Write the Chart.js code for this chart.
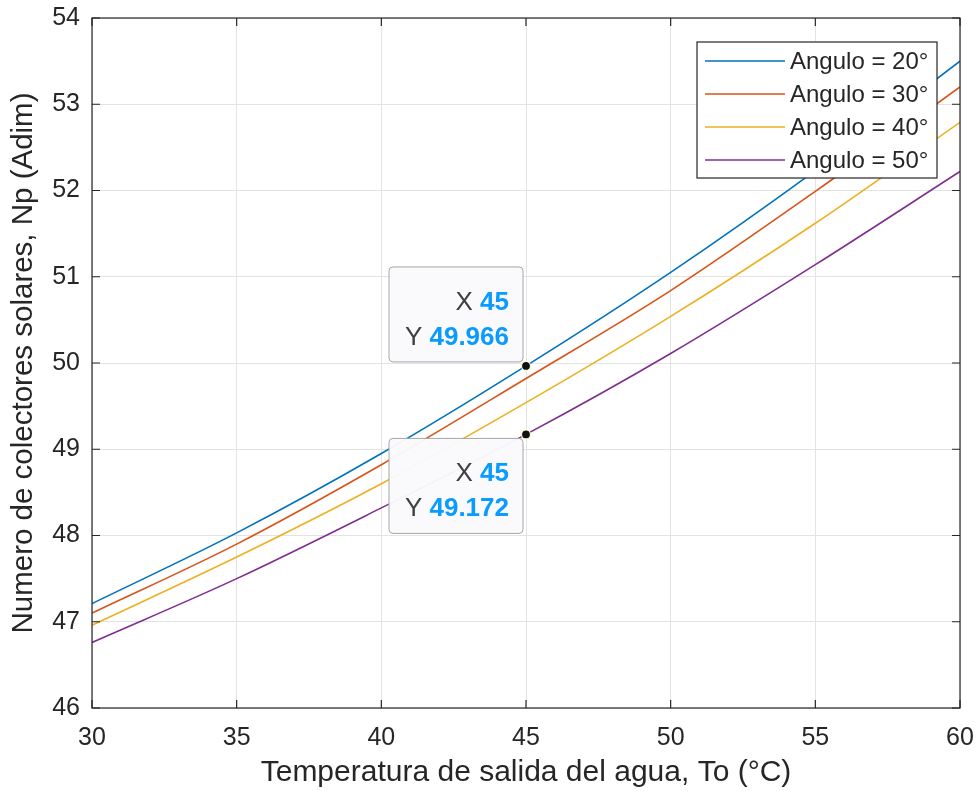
<!DOCTYPE html>
<html>
<head>
<meta charset="utf-8">
<script src="https://cdn.jsdelivr.net/npm/chart.js@4.4.1/dist/chart.umd.min.js"></script>
<style>
  html, body { margin: 0; padding: 0; background: #fff; }
  #wrap { width: 979px; height: 791px; }
</style>
</head>
<body>
<div id="wrap"><canvas id="npChart"></canvas></div>
<script>
// Datos
const temps = [30, 35, 40, 45, 50, 55, 60];
const ang20 = [47.21, 48.03, 48.95, 49.966, 51.05, 52.23, 53.50];
const ang30 = [47.10, 47.90, 48.82, 49.82, 50.84, 51.99, 53.20];
const ang40 = [46.96, 47.75, 48.60, 49.54, 50.54, 51.62, 52.79];
const ang50 = [46.76, 47.50, 48.32, 49.172, 50.11, 51.14, 52.22];
const seriesNames = ['Angulo = 20°', 'Angulo = 30°', 'Angulo = 40°', 'Angulo = 50°'];
const xTicks = [30, 35, 40, 45, 50, 55, 60];
const yTicks = [46, 47, 48, 49, 50, 51, 52, 53, 54];

// datatips
const tipX = [45, 45];
const tipY = [49.966, 49.172];
const tipSide = ['above', 'below'];

const colors = ['#0072BD', '#D95319', '#EDB120', '#7E2F8E'];
const axisColor = '#262626';
const gridColor = '#e3e3e3';
const fontFamily = "'Liberation Sans', Arial, Helvetica, sans-serif";

function toXY(ys) {
    return temps.map((t, i) => ({ x: t, y: ys[i] }));
}

// ticks hacia dentro y caja completa, estilo MATLAB
const boxPlugin = {
    id: 'boxPlugin',
    afterDatasetsDraw(chart) {
        const { ctx, chartArea: a, scales } = chart;
        ctx.save();
        ctx.strokeStyle = axisColor;
        ctx.lineWidth = 1.2;
        ctx.strokeRect(a.left, a.top, a.right - a.left, a.bottom - a.top);
        const tl = 8;
        ctx.beginPath();
        xTicks.forEach(v => {
            const px = scales.x.getPixelForValue(v);
            ctx.moveTo(px, a.bottom); ctx.lineTo(px, a.bottom - tl);
            ctx.moveTo(px, a.top); ctx.lineTo(px, a.top + tl);
        });
        yTicks.forEach(v => {
            const py = scales.y.getPixelForValue(v);
            ctx.moveTo(a.left, py); ctx.lineTo(a.left + tl, py);
            ctx.moveTo(a.right, py); ctx.lineTo(a.right - tl, py);
        });
        ctx.stroke();
        ctx.restore();
    }
};

const legendPlugin = {
    id: 'boxLegend',
    afterDraw(chart) {
        const { ctx, chartArea: a } = chart;
        const w = 240, h = 136;
        const x0 = a.right - 23 - w, y0 = a.top + 24;
        ctx.save();
        ctx.fillStyle = '#fff';
        ctx.fillRect(x0, y0, w, h);
        ctx.strokeStyle = axisColor;
        ctx.lineWidth = 1.2;
        ctx.strokeRect(x0, y0, w, h);
        ctx.font = '24px ' + fontFamily;
        ctx.textBaseline = 'middle';
        chart.data.datasets.forEach((ds, i) => {
            const cy = y0 + 19 + i * 33;
            ctx.strokeStyle = ds.borderColor;
            ctx.lineWidth = 1.6;
            ctx.beginPath();
            ctx.moveTo(x0 + 8, cy); ctx.lineTo(x0 + 88, cy);
            ctx.stroke();
            ctx.fillStyle = axisColor;
            ctx.fillText(ds.label, x0 + 93, cy + 1);
        });
        ctx.restore();
    }
};

const tipPlugin = {
    id: 'dataTips',
    afterDraw(chart) {
        const { ctx, scales } = chart;
        ctx.save();
        tipX.forEach((xv, i) => {
            const px = scales.x.getPixelForValue(xv);
            const py = scales.y.getPixelForValue(tipY[i]);
            const w = 134, h = 95;
            const bx = px - 3 - w;
            const by = tipSide[i] === 'above' ? py - 4 - h : py + 4;
            ctx.beginPath();
            ctx.roundRect(bx, by, w, h, 4);
            ctx.fillStyle = 'rgba(250,250,253,0.96)';
            ctx.fill();
            ctx.strokeStyle = '#a6a6a6';
            ctx.lineWidth = 1;
            ctx.stroke();

            const rx = bx + w - 14;
            const rows = [['X', String(xv)], ['Y', tipY[i].toFixed(3)]];
            ctx.textBaseline = 'alphabetic';
            rows.forEach((r, k) => {
                const base = by + 43 + k * 35;
                ctx.font = 'bold 26px ' + fontFamily;
                const vw = ctx.measureText(r[1]).width;
                ctx.fillStyle = '#0a9bff';
                ctx.textAlign = 'right';
                ctx.fillText(r[1], rx, base);
                ctx.font = '26px ' + fontFamily;
                ctx.fillStyle = '#404040';
                ctx.fillText(r[0] + ' ', rx - vw, base);
            });

            ctx.beginPath();
            ctx.arc(px, py, 4.5, 0, Math.PI * 2);
            ctx.fillStyle = '#111';
            ctx.fill();
            ctx.strokeStyle = '#ffffcc';
            ctx.lineWidth = 1.2;
            ctx.stroke();
        });
        ctx.restore();
    }
};

const ctx = document.getElementById('npChart').getContext('2d');
new Chart(ctx, {
    type: 'line',
    data: {
        datasets: [ang20, ang30, ang40, ang50].map((ys, i) => ({
            label: seriesNames[i],
            data: toXY(ys),
            borderColor: colors[i],
            borderWidth: 1.6,
            pointRadius: 0,
            fill: false,
            cubicInterpolationMode: 'monotone'
        }))
    },
    options: {
        responsive: true,
        maintainAspectRatio: false,
        animation: false,
        layout: { padding: { top: 18, right: 19, left: 0, bottom: 0 } },
        plugins: {
            legend: { display: false },
            tooltip: { enabled: false }
        },
        scales: {
            x: {
                type: 'linear',
                min: 30, max: 60,
                afterBuildTicks: s => { s.ticks = xTicks.map(v => ({ value: v })); },
                afterFit: s => { s.height = 83; s.paddingLeft = 0; s.paddingRight = 0; },
                grid: { color: gridColor, drawTicks: false },
                border: { display: false },
                ticks: {
                    color: axisColor, padding: 15,
                    font: { family: fontFamily, size: 25 }
                },
                title: {
                    display: true,
                    text: 'Temperatura de salida del agua, To (°C)',
                    color: axisColor,
                    font: { family: fontFamily, size: 30 },
                    padding: { bottom: 0 }
                }
            },
            y: {
                min: 46, max: 54,
                afterBuildTicks: s => { s.ticks = yTicks.map(v => ({ value: v })); },
                afterFit: s => { s.width = 92; s.paddingTop = 0; s.paddingBottom = 0; },
                grid: { color: gridColor, drawTicks: false },
                border: { display: false },
                ticks: {
                    color: axisColor, padding: 12,
                    font: { family: fontFamily, size: 25 }
                },
                title: {
                    display: true,
                    text: 'Numero de colectores solares, Np (Adim)',
                    color: axisColor,
                    font: { family: fontFamily, size: 29.5 },
                    padding: { top: 6 }
                }
            }
        }
    },
    plugins: [boxPlugin, legendPlugin, tipPlugin]
});
</script>
</body>
</html>
